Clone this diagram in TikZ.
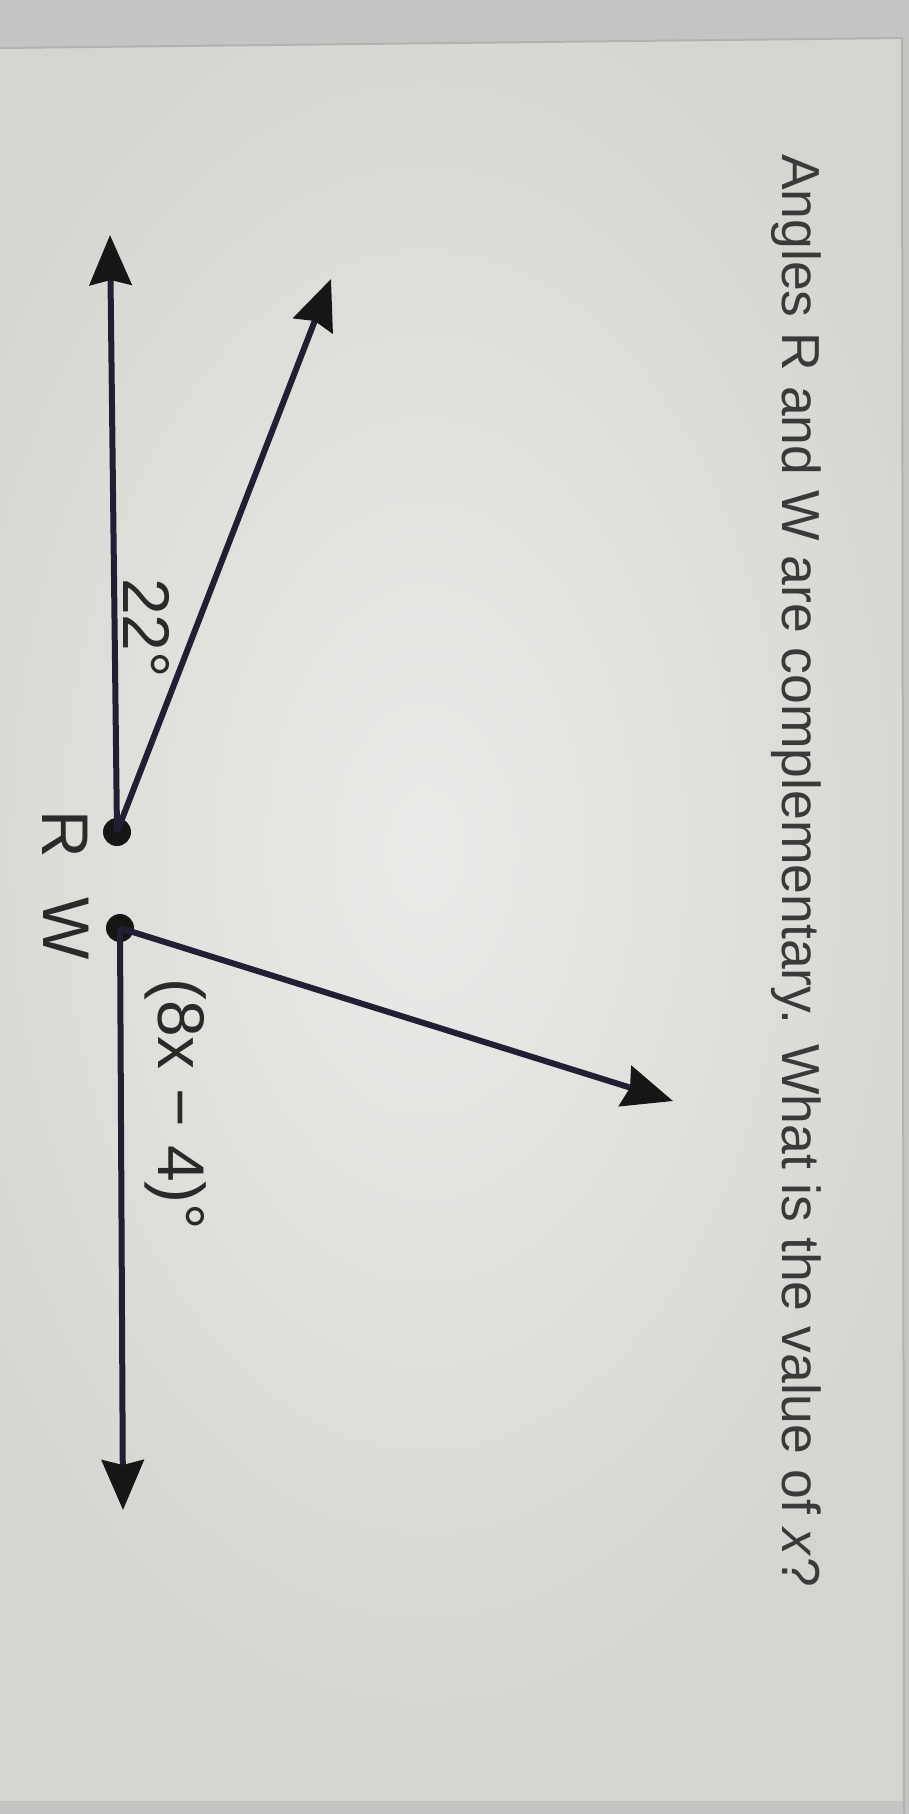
\documentclass[tikz,border=0pt]{standalone}
\usepackage{fontspec}
\setmainfont{Liberation Sans}
\usetikzlibrary{arrows.meta}
\definecolor{edgegray}{HTML}{C4C4C3}
\definecolor{paperin}{HTML}{EBEBE9}
\definecolor{paperout}{HTML}{D4D4D0}
\definecolor{seam}{HTML}{B2B2B2}
\definecolor{inkline}{HTML}{221F33}
\definecolor{inkhead}{HTML}{161616}
\definecolor{qtext}{HTML}{3A3A3A}
\definecolor{ltext}{HTML}{2A2A2A}
\begin{document}
\begin{tikzpicture}[x=1pt,y=-1pt,
  ray/.style={line width=6pt, draw=inkline,
    -{Stealth[length=50pt,width=42pt,inset=5pt,color=inkhead]}},
  dot/.style={circle, fill=inkhead, minimum size=28pt, inner sep=0pt},
  lbl/.style={rotate=-90, anchor=base west, inner sep=0pt,
    font=\fontsize{66pt}{70pt}\selectfont, text=ltext},
  qst/.style={rotate=-90, anchor=base west, inner sep=0pt,
    font=\fontsize{53.5pt}{60pt}\selectfont, text=qtext}]
\useasboundingbox (0,0) rectangle (909,1814);
% photographed page background
\fill[edgegray] (0,0) rectangle (909,1814);
\begin{scope}
  \clip (0,48) -- (902,38) -- (904,1814) -- (0,1814) -- cycle;
  \shade[inner color=paperin, outer color=paperout] (-150,-100) rectangle (1000,1800);
\end{scope}
\draw[seam, line width=2pt] (0,48) -- (902,38);
\draw[seam, line width=2pt] (902,38) -- (904,1814);

% question
\node[qst] (q) at (782,154) {Angles R and W are complementary. What is the value of \textit{x}?};

% vertices
\node[dot] (R) at (117,832) {};
\node[dot] (W) at (120,928) {};
\coordinate (Rup) at (110,235);
\coordinate (Rray) at (331,279);
\coordinate (Wray) at (673,1101);
\coordinate (Wdown) at (123,1510);

% rays
\draw[ray] (R.center) -- (Rup);
\draw[ray] (R.center) -- (Rray);
\draw[ray] (W.center) -- (Wray);
\draw[ray] (W.center) -- (Wdown);

% labels
\node[lbl] (a22) at (123,578) {22°};
\node[lbl] (rl) at (42,810) {R};
\node[lbl] (wl) at (43,897) {W};
\node[lbl] (a8x) at (158,978) {(8x − 4)°};
\end{tikzpicture}
\end{document}
